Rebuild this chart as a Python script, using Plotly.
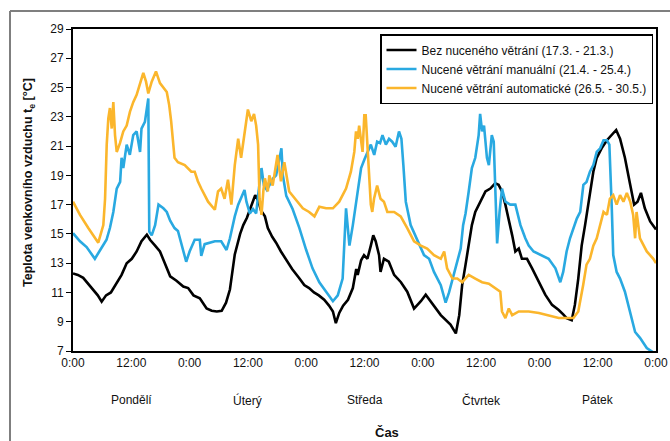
import plotly.graph_objects as go

# ---------------- data (hours from Monday 0:00, temperature °C) ----------------
black_h = [0, 1.0, 2.1, 3.1, 4.1, 5.1, 5.9, 6.8, 7.8, 9.0, 10.0, 11.05, 12.1, 13.1, 14.1, 15.2, 15.85,
           16.9, 17.9, 18.9, 20.0, 21.3, 22.7, 23.7, 24.8, 26.1, 27.5, 28.55, 29.6, 30.6, 31.5, 32.3,
           33.3, 34.4, 35.05, 35.8, 36.4, 37.05, 37.5, 38.1, 38.7, 39.5, 40.1, 41.0, 41.8, 42.8, 43.8,
           45.1, 46.5, 47.6, 48.6, 49.6, 50.6, 51.7, 52.7, 53.5, 54.1, 54.8, 55.6, 56.6, 57.6, 58.3,
           58.6, 59.3, 59.9, 60.6, 61.3, 61.8, 62.3, 63.0, 63.3, 64.0, 65.0, 66.1, 67.5, 68.8, 70.2,
           71.6, 72.6, 73.6, 75.7, 77.7, 78.8, 79.5, 80.1, 80.8, 81.45, 82.1, 82.8, 83.8, 84.9, 85.9,
           86.9, 87.6, 88.3, 89.0, 89.7, 90.4, 91.05, 91.75, 92.4, 93.45, 94.5, 95.9, 97.2, 98.6,
           99.98, 100.9, 101.6, 102.65, 103.3, 104.0, 104.7, 105.4, 106.4, 107.1, 107.8, 108.8,
           109.9, 110.9, 111.8, 112.6, 113.6, 114.7, 115.5, 116.2, 116.9, 117.7, 118.8, 120]
black_t = [12.3, 12.2, 12.0, 11.6, 11.2, 10.8, 10.37, 10.8, 11.0, 11.7, 12.2, 13.0, 13.3, 13.8, 14.5, 14.95, 14.6,
           14.2, 13.8, 13.0, 12.1, 11.8, 11.4, 11.3, 10.8, 10.6, 9.9, 9.75, 9.7, 9.75, 10.3, 11.2,
           13.6, 15.0, 15.6, 16.1, 16.6, 17.2, 17.65, 17.3, 16.6, 16.2, 15.4, 14.8, 14.4, 13.8, 13.3,
           12.6, 12.0, 11.5, 11.3, 11.0, 10.8, 10.5, 10.1, 9.7, 8.9, 9.6, 10.1, 10.5, 11.3, 12.6,
           12.2, 13.2, 13.55, 13.3, 14.2, 14.9, 14.5, 13.55, 12.4, 13.3, 13.1, 12.2, 11.7, 11.05, 9.9,
           10.4, 10.85, 10.4, 9.45, 8.8, 8.2, 9.45, 11.5, 12.9, 14.2, 15.6, 16.5, 17.2, 17.9, 18.1,
           18.45, 18.35, 17.9, 17.0, 16.05, 14.9, 13.8, 14.0, 13.3, 13.3, 12.65, 11.7, 10.85, 10.15,
           9.8, 9.5, 9.25, 9.1, 10.15, 11.95, 14.2, 15.6, 17.9, 19.25, 20.2, 20.85,
           21.4, 21.75, 22.1, 21.5, 20.2, 18.35, 17.0, 17.2, 17.8, 16.75, 15.85, 15.3]

blue_h = [0, 1.44, 2.8, 3.7, 4.5, 5.6, 6.9, 7.6, 8.3, 9.0, 9.7, 10.0, 10.35, 11.05, 11.7, 12.4, 13.1,
          13.8, 14.1, 14.8, 15.5, 15.7, 16.2, 16.9, 17.6, 18.6, 19.3, 20.0, 20.9, 21.6, 22.3, 23.3,
          24.0, 25.05, 26.1, 26.4, 27.1, 29.2, 30.5, 31.6, 32.3, 33.3, 34.0, 34.6, 35.3, 35.7, 36.4,
          37.05, 37.7, 38.2, 38.8, 39.3, 39.9, 41.2, 41.8, 42.3, 42.9, 43.2, 43.9, 45.2, 46.6, 48.0,
          49.3, 50.7, 52.1, 53.5, 54.5, 55.5, 56.2, 56.6, 56.9, 57.6, 58.3, 59.3, 60.0, 60.6, 61.3,
          62.0, 62.6, 63.2, 63.7, 64.4, 65.05, 65.7, 66.4, 67.1, 67.6, 68.0, 68.5, 69.5, 70.9, 72.25,
          73.3, 74.3, 75.7, 76.7, 77.4, 78.1, 79.1, 79.8, 80.3, 80.8, 81.45, 82.1, 82.8, 83.5, 83.8,
          84.2, 84.6, 85.2, 85.6, 86.2, 86.6, 86.9, 87.3, 87.8, 88.3, 89.0, 90.0, 91.05, 92.1, 93.1,
          93.8, 94.8, 96.5, 97.9, 99.3, 100.3, 100.9, 101.6, 102.3, 103.0, 103.7, 104.4, 105.05,
          105.7, 106.4, 107.1, 107.8, 108.5, 109.2, 109.9, 110.4, 110.9, 111.2, 111.9, 112.6, 113.6,
          114.7, 115.7, 116.7, 118.1, 119.45, 120]
blue_t = [15.05, 14.5, 14.1, 13.7, 13.3, 13.9, 14.6, 15.4, 16.5, 18.1, 18.55, 20.2, 19.5, 21.1, 20.4, 21.75, 22.0,
          20.6, 22.2, 22.65, 24.25, 15.15, 14.9, 15.6, 17.0, 16.75, 16.5, 15.9, 15.4, 15.2, 14.3, 13.1,
          13.8, 14.6, 14.6, 13.5, 14.3, 14.5, 14.5, 13.9, 14.7, 16.2, 17.0, 17.5, 18.0, 17.2, 16.4,
          16.7, 16.4, 17.9, 19.5, 18.3, 18.0, 18.8, 19.0, 19.8, 20.85, 19.0, 17.6, 16.7, 15.4, 13.9,
          12.65, 11.7, 11.05, 10.4, 10.8, 11.95, 16.75, 15.1, 14.2, 15.6, 17.2, 19.5, 20.1, 20.6, 21.1,
          20.4, 21.3, 21.2, 21.75, 21.1, 21.5, 21.3, 20.95, 22.0, 21.5, 19.7, 17.2, 15.6, 14.5, 13.55,
          13.3, 12.4, 11.5, 10.3, 11.0, 11.9, 13.0, 14.0, 15.6, 16.4, 17.9, 19.5, 20.2, 21.75, 23.2,
          22.0, 22.4, 20.2, 19.7, 21.75, 21.3, 18.35, 14.35, 16.5, 18.1, 17.2, 17.0, 17.0, 15.6, 14.7,
          14.2, 13.8, 13.55, 13.3, 12.65, 11.7, 12.4, 13.8, 14.7, 15.4, 16.05, 16.5, 18.35,
          18.55, 19.25, 19.7, 20.6, 20.85, 21.4, 21.4, 21.1, 16.75, 13.55, 12.4, 11.95, 11.05,
          9.7, 8.3, 7.9, 7.2, 6.9, 6.8]

orange_h = [0, 1.44, 3.15, 5.2, 6.24, 6.6, 6.94, 7.27, 7.6, 7.97, 8.3, 8.65, 9.0, 9.67, 10.35, 11.05, 11.73,
            12.4, 13.1, 13.8, 14.47, 15.03, 15.5, 16.2, 17.08, 17.9, 19.3, 19.8, 20.2, 20.9, 21.6, 23.0,
            24.35, 25.05, 25.7, 26.4, 27.8, 29.2, 29.85, 30.5, 31.2, 31.9, 32.6, 33.3, 34.0, 34.6, 35.5,
            36.0, 36.7, 37.26, 37.7, 38.1, 38.4, 38.8, 39.2, 39.5, 40.1, 40.4, 41.1, 41.8, 42.1, 42.8,
            43.5, 44.5, 45.9, 47.3, 48.6, 49.7, 50.7, 52.1, 53.5, 54.8, 56.2, 57.2, 57.9, 58.25, 58.6,
            58.9, 59.6, 59.96, 60.25, 60.6, 60.9, 61.3, 61.6, 61.96, 62.6, 63.3, 64.0, 64.7, 66.1, 67.45,
            68.8, 70.2, 71.6, 72.9, 74.3, 75.7, 76.4, 77.0, 78.1, 79.1, 80.1, 81.45, 82.8, 84.2, 85.6,
            86.9, 87.95, 88.3, 89.0, 89.7, 90.4, 91.75, 93.8, 95.9, 97.9, 99.98, 103.0, 104.0, 105.0,
            105.7, 106.4, 107.1, 107.8, 108.5, 109.2, 109.9, 110.5, 111.2, 111.9, 112.6, 113.3, 114.0,
            114.7, 115.3, 115.7, 116.0, 116.7, 118.1, 119.45, 120]
orange_t = [17.2, 16.3, 15.4, 14.4, 15.6, 17.4, 21.1, 22.9, 23.6, 22.2, 24.0, 21.75, 20.6, 21.2, 22.0, 22.4, 23.35,
            24.0, 24.5, 25.2, 26.0, 25.4, 24.6, 25.4, 26.1, 25.3, 24.7, 23.8, 22.7, 20.2, 19.9, 19.7,
            19.25, 19.25, 18.6, 18.1, 17.2, 16.65, 17.9, 18.1, 17.4, 18.7, 17.0, 19.7, 21.5, 20.2, 22.4,
            23.5, 22.7, 23.2, 22.4, 21.1, 17.4, 16.3, 18.0, 18.8, 17.9, 19.0, 18.3, 19.7, 20.4, 18.6,
            19.9, 17.9, 17.3, 16.75, 16.5, 16.2, 16.85, 16.75, 16.75, 17.2, 18.1, 19.25, 20.6, 22.0, 21.5,
            22.4, 20.6, 23.1, 23.1, 21.3, 19.0, 17.0, 16.5, 17.4, 18.3, 17.4, 17.2, 16.5, 16.5, 16.2,
            15.4, 14.5, 14.2, 14.0, 13.55, 13.3, 13.8, 12.65, 11.95, 11.95, 11.7, 12.2, 11.95, 11.7, 11.6,
            11.3, 11.05, 9.7, 9.25, 9.9, 9.45, 9.7, 9.7, 9.6, 9.45, 9.25, 9.25, 9.7, 11.5,
            12.9, 13.3, 14.2, 14.7, 15.6, 16.5, 16.3, 17.4, 17.65, 17.0, 17.65, 17.2, 17.8,
            17.2, 16.3, 14.7, 16.5, 14.7, 13.8, 13.3, 13.0]

series_names = ["Bez nuceného větrání (17.3. - 21.3.)",
                "Nucené větrání manuální (21.4. - 25.4.)",
                "Nucené větrání automatické (26.5. - 30.5.)"]
series_colors = ["#000000", "#29a9e1", "#fbb62c"]

tick_vals = [0, 12, 24, 36, 48, 60, 72, 84, 96, 108, 120]
tick_text = ["0:00", "12:00", "0:00", "12:00", "0:00", "12:00", "0:00", "12:00", "0:00", "12:00", "0:00"]
day_pos = [12, 36, 60, 84, 108]
day_names = ["Pondělí", "Úterý", "Středa", "Čtvrtek", "Pátek"]
y_ticks = list(range(7, 30, 2))

FONT = "Liberation Sans, Arial, sans-serif"

fig = go.Figure()
for h, t, name, col in zip([black_h, blue_h, orange_h], [black_t, blue_t, orange_t],
                           series_names, series_colors):
    fig.add_trace(go.Scatter(x=h, y=t, mode="lines", name=name,
                             line=dict(color=col, width=2.6)))

W, H = 670, 441
L, R, T, B = 73, 14, 29, 90
pw, ph = W - L - R, H - T - B

def px_x(px):
    return (px - L) / pw

def px_y(py):
    return (H - B - py) / ph

annotations = []
for p, n in zip(day_pos, day_names):
    annotations.append(dict(x=p, xref="x", y=px_y(400), yref="paper", text=n, showarrow=False,
                            font=dict(family=FONT, size=12, color="#111"), xanchor="center", yanchor="middle"))
annotations.append(dict(x=px_x(387), xref="paper", y=px_y(432), yref="paper", text="<b>Čas</b>",
                        showarrow=False, font=dict(family=FONT, size=13, color="#111"),
                        xanchor="center", yanchor="middle"))
annotations.append(dict(x=px_x(29), xref="paper", y=px_y(183), yref="paper",
                        text="<b>Teplota venkovního vzduchu t<sub>e</sub> [°C]</b>", textangle=-90,
                        showarrow=False, font=dict(family=FONT, size=12.5, color="#111"),
                        xanchor="center", yanchor="middle"))

shapes = [
    dict(type="line", xref="paper", yref="paper", x0=px_x(10), x1=px_x(680), y0=px_y(11), y1=px_y(11),
         line=dict(color="#7f7f7f", width=2)),
    dict(type="line", xref="paper", yref="paper", x0=px_x(10), x1=px_x(10), y0=px_y(11), y1=px_y(450),
         line=dict(color="#7f7f7f", width=2)),
]

fig.update_layout(
    width=W, height=H,
    margin=dict(l=L, r=R, t=T, b=B, autoexpand=False),
    paper_bgcolor="white", plot_bgcolor="white",
    font=dict(family=FONT, size=12, color="#111"),
    showlegend=True,
    legend=dict(x=px_x(653), y=px_y(34), xanchor="right", yanchor="top",
                bgcolor="white", bordercolor="black", borderwidth=1.5,
                font=dict(family=FONT, size=12, color="#111"),
                tracegroupgap=0, itemwidth=30),
    annotations=annotations,
    shapes=shapes,
    xaxis=dict(range=[0, 120], tickmode="array", tickvals=tick_vals, ticktext=tick_text,
               showgrid=False, zeroline=False, showline=True, linecolor="black", linewidth=2,
               mirror=True, ticks="", automargin=False,
               tickfont=dict(family=FONT, size=12, color="#111")),
    yaxis=dict(range=[7, 29], tickmode="array", tickvals=y_ticks, showgrid=False, zeroline=False,
               showline=True, linecolor="black", linewidth=2, mirror=True, automargin=False,
               ticks="outside", ticklen=5, tickwidth=1, tickcolor="black",
               tickfont=dict(family=FONT, size=12, color="#111")),
)

fig.write_html("out.html")
